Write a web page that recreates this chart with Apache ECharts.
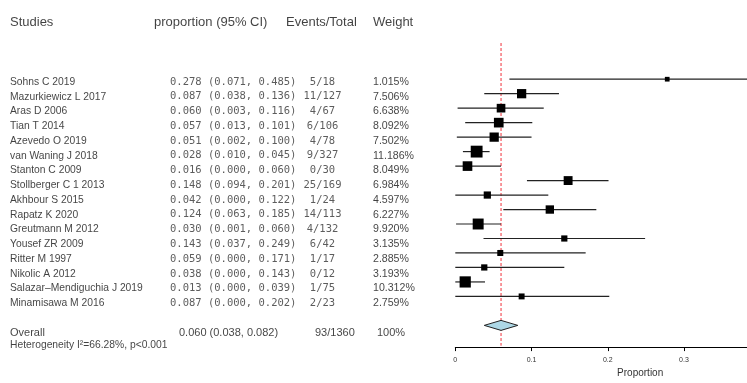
<!DOCTYPE html>
<html>
<head>
<meta charset="utf-8">
<script src="https://cdn.jsdelivr.net/npm/echarts@6/dist/echarts.min.js"></script>
<style>
  html, body { margin: 0; padding: 0; background: #fff; }
  #chart { width: 747px; height: 383px; }
</style>
</head>
<body>
<div id="chart"></div>
<script>
// Study-level proportions with 95% confidence intervals
const studies = [
  'Sohns C 2019', 'Mazurkiewicz L 2017', 'Aras D 2006', 'Tian T 2014',
  'Azevedo O 2019', 'van Waning J 2018', 'Stanton C 2009', 'Stollberger C 1 2013',
  'Akhbour S 2015', 'Rapatz K 2020', 'Greutmann M 2012', 'Yousef ZR 2009',
  'Ritter M 1997', 'Nikolic A 2012', 'Salazar\u2013Mendiguchia J 2019', 'Minamisawa M 2016'
];
const proportion = [0.278, 0.087, 0.060, 0.057, 0.051, 0.028, 0.016, 0.148, 0.042, 0.124, 0.030, 0.143, 0.059, 0.038, 0.013, 0.087];
const lowerCI    = [0.071, 0.038, 0.003, 0.013, 0.002, 0.010, 0.000, 0.094, 0.000, 0.063, 0.001, 0.037, 0.000, 0.000, 0.000, 0.000];
const upperCI    = [0.485, 0.136, 0.116, 0.101, 0.100, 0.045, 0.060, 0.201, 0.122, 0.185, 0.060, 0.249, 0.171, 0.143, 0.039, 0.202];
const eventsTotal = ['5/18', '11/127', '4/67', '6/106', '4/78', '9/327', '0/30', '25/169', '1/24', '14/113', '4/132', '6/42', '1/17', '0/12', '1/75', '2/23'];
const weights    = [1.015, 7.506, 6.638, 8.092, 7.502, 11.186, 8.049, 6.984, 4.597, 6.227, 9.920, 3.135, 2.885, 3.193, 10.312, 2.759];

// Pooled estimate
const overallEstimate = 0.060;
const overallLower = 0.038;
const overallUpper = 0.082;
const overallEvents = '93/1360';
const overallWeight = '100%';
const heterogeneityText = 'Heterogeneity I\u00b2=66.28%, p<0.001';

// Column headers and x-axis ticks
const headers = ['Studies', 'proportion (95% CI)', 'Events/Total', 'Weight'];
const xTicks = [0, 0.1, 0.2, 0.3];
const axisTitle = 'Proportion';

// Forest panel: 0 at x=455.3, 762.3 px per unit; the panel runs to the right edge
const PANEL_LEFT = 455.3;
const PX_PER_UNIT = 762.3;
const xMax = (747 - PANEL_LEFT) / PX_PER_UNIT;
// the axis title is centred on the full 0–0.485 span, which runs past the right edge
// (left padding of a centred title moves it by half the padding)
const titleShift = (0.485 - xMax) * PX_PER_UNIT;

const OVERALL_ROW = 17;
const HET_ROW = 17.8;
const HEADER_ROW = -4.05;

const fmt = v => v.toFixed(3);
const ciText = i => fmt(proportion[i]) + ' (' + fmt(lowerCI[i]) + ', ' + fmt(upperCI[i]) + ')';

const SANS = '"Liberation Sans", Arial, sans-serif';
const MONO = '"DejaVu Sans Mono", "Liberation Mono", monospace';

function textSeries(points, style, align) {
  return {
    type: 'scatter',
    xAxisIndex: 0, yAxisIndex: 0,
    symbolSize: 0,
    clip: false,
    silent: true,
    data: points,
    label: {
      show: true,
      position: 'inside',
      align: align || 'left',
      verticalAlign: 'middle',
      offset: [0, 2],
      formatter: p => p.data[2],
      ...style
    }
  };
}

const nameStyle = { fontFamily: SANS, fontSize: 10.3, color: '#111' };
const monoStyle = { fontFamily: MONO, fontSize: 10.5, color: '#333' };
const weightStyle = { fontFamily: SANS, fontSize: 10.6, color: '#111' };
const headerStyle = { fontFamily: SANS, fontSize: 13, color: '#111' };
const overallStyle = { fontFamily: SANS, fontSize: 11, color: '#111' };

const rows = studies.map((s, i) => i);

const chart = echarts.init(document.getElementById('chart'), null, { renderer: 'canvas' });

chart.setOption({
  animation: false,
  backgroundColor: '#fff',
  grid: [
    { left: 0, right: 0, top: 43, bottom: 30 },
    { left: PANEL_LEFT, right: 0, top: 43, bottom: 30 }
  ],
  xAxis: [
    { gridIndex: 0, type: 'value', min: 0, max: 747, show: false },
    {
      gridIndex: 1, type: 'value', min: 0, max: xMax,
      axisLine: { show: true, onZero: false, lineStyle: { color: '#000', width: 1 } },
      axisTick: { show: true, length: 4, lineStyle: { color: '#000' },
                  customValues: xTicks },
      axisLabel: { fontSize: 7, color: '#333', margin: 9, fontFamily: SANS,
                   customValues: xTicks, formatter: v => String(v) },
      splitLine: { show: false },
      name: axisTitle, nameLocation: 'middle', nameGap: 18,
      nameTextStyle: { fontSize: 10, color: '#333', fontFamily: SANS,
                       padding: [0, 0, 0, titleShift] }
    }
  ],
  yAxis: [
    { gridIndex: 0, type: 'value', min: -2.5, max: 18.5, inverse: true, show: false },
    { gridIndex: 1, type: 'value', min: -2.5, max: 18.5, inverse: true, show: false }
  ],
  series: [
    // header
    textSeries([
      [10, HEADER_ROW, headers[0]],
      [154, HEADER_ROW, headers[1]],
      [286, HEADER_ROW, headers[2]],
      [373, HEADER_ROW, headers[3]]
    ], headerStyle),
    // study rows
    textSeries(rows.map(i => [10, i, studies[i]]), nameStyle),
    textSeries(rows.map(i => [170, i, ciText(i)]), monoStyle),
    textSeries(rows.map(i => [322.5, i, eventsTotal[i]]), monoStyle, 'center'),
    textSeries(rows.map(i => [373, i, fmt(weights[i]) + '%']), weightStyle),
    // overall row
    textSeries([
      [10, OVERALL_ROW, 'Overall'],
      [179, OVERALL_ROW, fmt(overallEstimate) + ' (' + fmt(overallLower) + ', ' + fmt(overallUpper) + ')'],
      [315, OVERALL_ROW, overallEvents],
      [377, OVERALL_ROW, overallWeight]
    ], overallStyle),
    textSeries([[10, HET_ROW, heterogeneityText]], nameStyle),
    // dashed reference line at the pooled estimate
    {
      type: 'custom',
      xAxisIndex: 1, yAxisIndex: 1,
      clip: false,
      silent: true,
      data: [[overallEstimate]],
      renderItem: (params, api) => {
        const top = api.coord([api.value(0), -2.5]);
        const bottom = api.coord([api.value(0), 18.4]);
        return {
          type: 'line',
          shape: { x1: top[0], y1: top[1], x2: bottom[0], y2: bottom[1] },
          style: { stroke: '#f0323a', lineWidth: 1, lineDash: [3, 2] }
        };
      }
    },
    // confidence intervals and weighted squares
    {
      type: 'custom',
      xAxisIndex: 1, yAxisIndex: 1,
      clip: false,
      silent: true,
      data: rows.map(i => [proportion[i], i, lowerCI[i], upperCI[i], weights[i]]),
      renderItem: (params, api) => {
        const est = api.value(0), row = api.value(1);
        const lo = api.coord([api.value(2), row]);
        const hi = api.coord([api.value(3), row]);
        const c = api.coord([est, row]);
        const side = 4 + 0.7 * api.value(4);
        return {
          type: 'group',
          children: [
            { type: 'line', shape: { x1: lo[0], y1: lo[1], x2: hi[0], y2: hi[1] },
              style: { stroke: '#222', lineWidth: 1.2 } },
            { type: 'rect', shape: { x: c[0] - side / 2, y: c[1] - side / 2, width: side, height: side },
              style: { fill: '#000' } }
          ]
        };
      }
    },
    // pooled estimate diamond
    {
      type: 'custom',
      xAxisIndex: 1, yAxisIndex: 1,
      silent: true,
      data: [[overallEstimate, OVERALL_ROW, overallLower, overallUpper]],
      renderItem: (params, api) => {
        const row = api.value(1);
        const l = api.coord([api.value(2), row]);
        const r = api.coord([api.value(3), row]);
        const m = api.coord([api.value(0), row]);
        const h = 5;
        return {
          type: 'polygon',
          shape: { points: [[l[0], l[1]], [m[0], m[1] - h], [r[0], r[1]], [m[0], m[1] + h]] },
          style: { fill: '#add8e6', stroke: '#222', lineWidth: 1 }
        };
      }
    }
  ]
});
</script>
</body>
</html>
